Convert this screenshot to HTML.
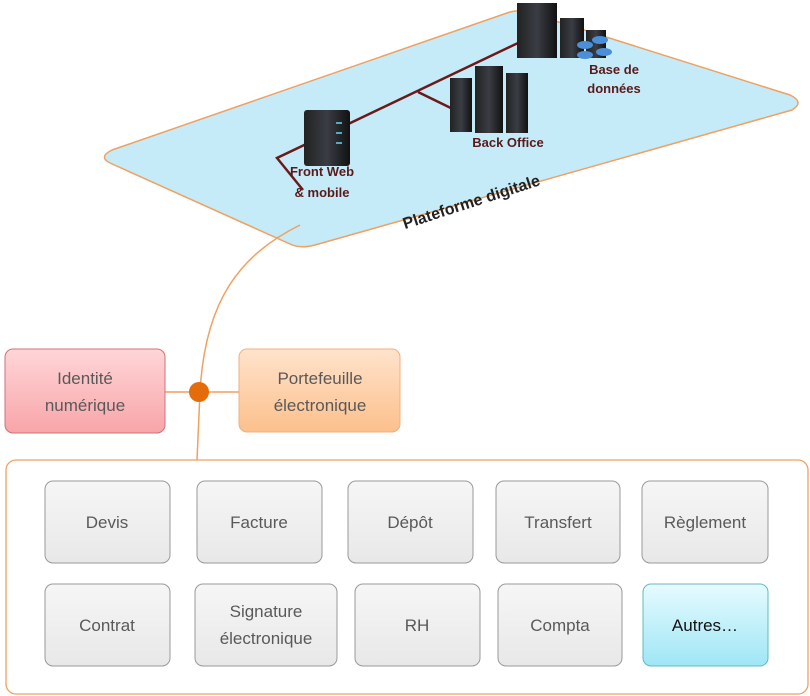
<!DOCTYPE html>
<html><head><meta charset="utf-8"><style>
html,body{margin:0;padding:0;background:#fff;}
svg{display:block;font-family:"Liberation Sans",sans-serif;}
</style></head><body>
<svg width="810" height="696" viewBox="0 0 810 696" xmlns="http://www.w3.org/2000/svg">
<defs>
<linearGradient id="pink" x1="0" y1="0" x2="0" y2="1"><stop offset="0" stop-color="#ffd6d8"/><stop offset="1" stop-color="#f8a5a8"/></linearGradient>
<linearGradient id="orng" x1="0" y1="0" x2="0" y2="1"><stop offset="0" stop-color="#ffe3cc"/><stop offset="1" stop-color="#fcc08c"/></linearGradient>
<linearGradient id="grey" x1="0" y1="0" x2="0" y2="1"><stop offset="0" stop-color="#f6f6f6"/><stop offset="1" stop-color="#e8e8e8"/></linearGradient>
<linearGradient id="cyan" x1="0" y1="0" x2="0" y2="1"><stop offset="0" stop-color="#e6fbff"/><stop offset="1" stop-color="#9fe6f5"/></linearGradient>
<linearGradient id="srv" x1="0" y1="0" x2="1" y2="0"><stop offset="0" stop-color="#222"/><stop offset="0.5" stop-color="#3a3d44"/><stop offset="1" stop-color="#111"/></linearGradient>
</defs>
<path d="M112,150 L510,12 Q520,9 530,13 L790,95 Q805,102 792,110 L315,245 Q300,249 290,244 L110,163 Q98,157 112,150 Z" fill="#c5ebf8" stroke="#f0a060" stroke-width="1.5"/>
<path d="M300,225 C240,255 205,300 200,392 L197,460" fill="none" stroke="#f0a060" stroke-width="1.5"/>
<line x1="165" y1="392" x2="240" y2="392" stroke="#f0a060" stroke-width="1.5"/>
<circle cx="199" cy="392" r="10" fill="#e46c0a"/>
<polyline points="518,43 277,158 303,190" fill="none" stroke="#6b1a1a" stroke-width="2.5"/>
<polyline points="418,92 459,112" fill="none" stroke="#6b1a1a" stroke-width="2.5"/>
<rect x="517" y="3" width="40" height="55" fill="url(#srv)"/>
<rect x="560" y="18" width="24" height="40" fill="url(#srv)"/>
<rect x="586" y="30" width="20" height="28" fill="url(#srv)"/>
<g fill="#4a8fd8"><ellipse cx="585" cy="45" rx="8" ry="4"/><ellipse cx="600" cy="40" rx="8" ry="4"/><ellipse cx="604" cy="52" rx="8" ry="4"/><ellipse cx="585" cy="55" rx="8" ry="4"/></g>
<rect x="450" y="78" width="22" height="54" fill="url(#srv)"/>
<rect x="475" y="66" width="28" height="67" fill="url(#srv)"/>
<rect x="506" y="73" width="22" height="60" fill="url(#srv)"/>
<rect x="304" y="110" width="46" height="56" rx="3" fill="url(#srv)"/>
<g fill="#5ab"><rect x="336" y="122" width="6" height="2"/><rect x="336" y="132" width="6" height="2"/><rect x="336" y="142" width="6" height="2"/></g>
<g fill="#5b1a1a" font-weight="bold" font-size="13" text-anchor="middle">
<text x="614" y="74">Base de</text><text x="614" y="93">données</text>
<text x="508" y="147">Back Office</text>
<text x="322" y="176">Front Web</text><text x="322" y="197">&amp; mobile</text>
</g>
<text x="473" y="207" font-size="16" font-weight="bold" fill="#222" transform="rotate(-18 473 207)" text-anchor="middle">Plateforme digitale</text>
<rect x="5" y="349" width="160" height="84" rx="8" fill="url(#pink)" stroke="#d07078"/>
<rect x="239" y="349" width="161" height="83" rx="8" fill="url(#orng)" stroke="#f0b080"/>
<g font-size="17" fill="#595959" text-anchor="middle">
<text x="85" y="384">Identité</text><text x="85" y="411">numérique</text>
<text x="320" y="384">Portefeuille</text><text x="320" y="411">électronique</text>
</g>
<rect x="6" y="460" width="802" height="234" rx="10" fill="#fff" stroke="#f0a060" stroke-width="1.3"/>
<g stroke="#999" stroke-width="1">
<rect x="45" y="481" width="125" height="82" rx="8" fill="url(#grey)"/>
<rect x="197" y="481" width="125" height="82" rx="8" fill="url(#grey)"/>
<rect x="348" y="481" width="125" height="82" rx="8" fill="url(#grey)"/>
<rect x="496" y="481" width="124" height="82" rx="8" fill="url(#grey)"/>
<rect x="642" y="481" width="126" height="82" rx="8" fill="url(#grey)"/>
<rect x="45" y="584" width="125" height="82" rx="8" fill="url(#grey)"/>
<rect x="195" y="584" width="142" height="82" rx="8" fill="url(#grey)"/>
<rect x="355" y="584" width="125" height="82" rx="8" fill="url(#grey)"/>
<rect x="498" y="584" width="124" height="82" rx="8" fill="url(#grey)"/>
<rect x="643" y="584" width="125" height="82" rx="8" fill="url(#cyan)" stroke="#60b8c8"/>
</g>
<g font-size="17" fill="#595959" text-anchor="middle">
<text x="107" y="528">Devis</text><text x="259" y="528">Facture</text><text x="410" y="528">Dépôt</text><text x="558" y="528">Transfert</text><text x="705" y="528">Règlement</text>
<text x="107" y="631">Contrat</text><text x="266" y="617">Signature</text><text x="266" y="644">électronique</text><text x="417" y="631">RH</text><text x="560" y="631">Compta</text><text x="705" y="631" fill="#111">Autres…</text>
</g>
</svg>
</body></html>
